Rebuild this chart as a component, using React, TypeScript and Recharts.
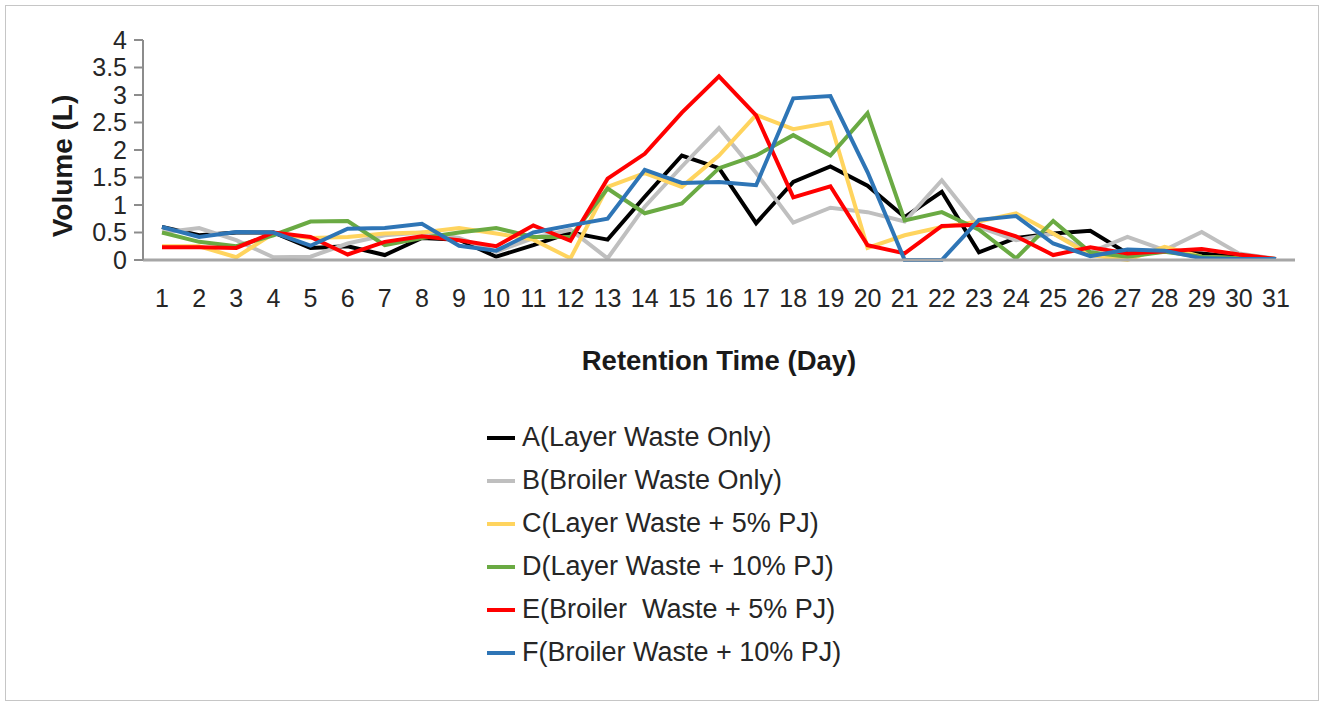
import React from 'react';
import { LineChart, Line, XAxis, YAxis, Legend } from 'recharts';

const days = ['1', '2', '3', '4', '5', '6', '7', '8', '9', '10', '11', '12', '13', '14', '15', '16', '17', '18', '19', '20', '21', '22', '23', '24', '25', '26', '27', '28', '29', '30', '31'];

const layerOnly = [0.6, 0.45, 0.5, 0.5, 0.22, 0.25, 0.09, 0.4, 0.37, 0.06, 0.27, 0.5, 0.37, 1.15, 1.9, 1.67, 0.67, 1.42, 1.7, 1.35, 0.78, 1.24, 0.14, 0.4, 0.48, 0.53, 0.12, 0.15, 0.12, 0.05, 0.02];
const broilerOnly = [0.5, 0.58, 0.36, 0.05, 0.06, 0.3, 0.45, 0.5, 0.4, 0.15, 0.4, 0.55, 0.03, 0.97, 1.7, 2.4, 1.58, 0.68, 0.95, 0.87, 0.7, 1.45, 0.6, 0.36, 0.48, 0.14, 0.42, 0.18, 0.51, 0.12, 0.02];
const layer5 = [0.25, 0.25, 0.05, 0.48, 0.4, 0.42, 0.48, 0.5, 0.58, 0.48, 0.37, 0.03, 1.33, 1.58, 1.33, 1.9, 2.64, 2.38, 2.5, 0.22, 0.45, 0.6, 0.7, 0.85, 0.48, 0.09, 0.0, 0.24, 0.06, 0.03, 0.02];
const layer10 = [0.5, 0.33, 0.25, 0.45, 0.7, 0.71, 0.27, 0.4, 0.5, 0.58, 0.42, 0.42, 1.3, 0.85, 1.03, 1.67, 1.9, 2.27, 1.9, 2.67, 0.72, 0.87, 0.55, 0.03, 0.71, 0.14, 0.06, 0.15, 0.06, 0.03, 0.02];
const broiler5 = [0.23, 0.23, 0.22, 0.5, 0.42, 0.1, 0.33, 0.43, 0.36, 0.25, 0.63, 0.35, 1.48, 1.93, 2.68, 3.34, 2.63, 1.14, 1.34, 0.27, 0.12, 0.62, 0.64, 0.43, 0.09, 0.23, 0.12, 0.16, 0.2, 0.1, 0.02];
const broiler10 = [0.6, 0.42, 0.51, 0.5, 0.26, 0.57, 0.58, 0.66, 0.26, 0.17, 0.5, 0.63, 0.75, 1.64, 1.4, 1.42, 1.36, 2.94, 2.98, 1.6, 0.0, 0.0, 0.73, 0.8, 0.3, 0.07, 0.19, 0.17, 0.03, 0.02, 0.02];

const yTicks = [0, 0.5, 1, 1.5, 2, 2.5, 3, 3.5, 4];

const series = [
  { key: 'A', name: 'A(Layer Waste Only)', values: layerOnly, color: '#000000' },
  { key: 'B', name: 'B(Broiler Waste Only)', values: broilerOnly, color: '#bfbfbf' },
  { key: 'C', name: 'C(Layer Waste + 5% PJ)', values: layer5, color: '#ffd45e' },
  { key: 'D', name: 'D(Layer Waste + 10% PJ)', values: layer10, color: '#6aaa43' },
  { key: 'E', name: 'E(Broiler  Waste + 5% PJ)', values: broiler5, color: '#ff0000' },
  { key: 'F', name: 'F(Broiler Waste + 10% PJ)', values: broiler10, color: '#2e75b6' },
];

const data = days.map((day, i) => {
  const row: Record<string, string | number> = { day };
  series.forEach((s) => {
    row[s.key] = s.values[i];
  });
  return row;
});

const font = '"Liberation Sans", Arial, sans-serif';

const LegendList = () => (
  <div style={{ fontFamily: font, fontSize: 27, color: '#262626' }}>
    {series.map((s) => (
      <div key={s.key} style={{ display: 'flex', alignItems: 'center', height: 43, whiteSpace: 'pre' }}>
        <span style={{ display: 'inline-block', width: 28, height: 4, background: s.color, marginRight: 7 }} />
        <span>{s.name}</span>
      </div>
    ))}
  </div>
);

export default function App() {
  return (
    <div style={{ position: 'absolute', left: 0, top: 0, width: 1323, height: 707, background: '#fff' }}>
      <div
        style={{
          position: 'absolute',
          left: 5,
          top: 5,
          width: 1312,
          height: 694,
          border: '1px solid #c6c6c6',
        }}
      />
      <div style={{ position: 'absolute', left: 0, top: 0 }}>
        <LineChart width={1323} height={707} data={data} margin={{ top: 40, right: 28, left: 23, bottom: 247 }}>
          <XAxis
            dataKey="day"
            height={200}
            padding={{ left: 19, right: 19 }}
            interval={0}
            tickSize={0}
            tickMargin={29}
            axisLine={{ stroke: '#a6a6a6', strokeWidth: 3 }}
            tick={{ fill: '#262626', fontSize: 25, fontFamily: font }}
            label={{
              value: 'Retention Time (Day)',
              position: 'center',
              style: { fill: '#1a1a1a', fontSize: 27.5, fontWeight: 700, fontFamily: font },
            }}
          />
          <YAxis
            width={120}
            domain={[0, 4]}
            ticks={yTicks}
            interval={0}
            tickSize={9}
            tickMargin={7}
            axisLine={{ stroke: '#8c8c8c', strokeWidth: 2 }}
            tickLine={{ stroke: '#8c8c8c', strokeWidth: 2 }}
            tick={{ fill: '#262626', fontSize: 25, fontFamily: font }}
            label={{
              value: 'Volume (L)',
              angle: -90,
              position: 'center',
              dx: -21,
              dy: 16,
              style: { fill: '#1a1a1a', fontSize: 28, fontWeight: 700, fontFamily: font, textAnchor: 'middle' },
            }}
          />
          <Legend
            layout="vertical"
            align="center"
            verticalAlign="middle"
            content={() => <LegendList />}
            wrapperStyle={{ left: 487, top: 416, width: 440 }}
          />
          {series.map((s) => (
            <Line
              key={s.key}
              type="linear"
              dataKey={s.key}
              name={s.name}
              stroke={s.color}
              strokeWidth={4}
              dot={false}
              activeDot={false}
              isAnimationActive={false}
            />
          ))}
        </LineChart>
      </div>
    </div>
  );
}
